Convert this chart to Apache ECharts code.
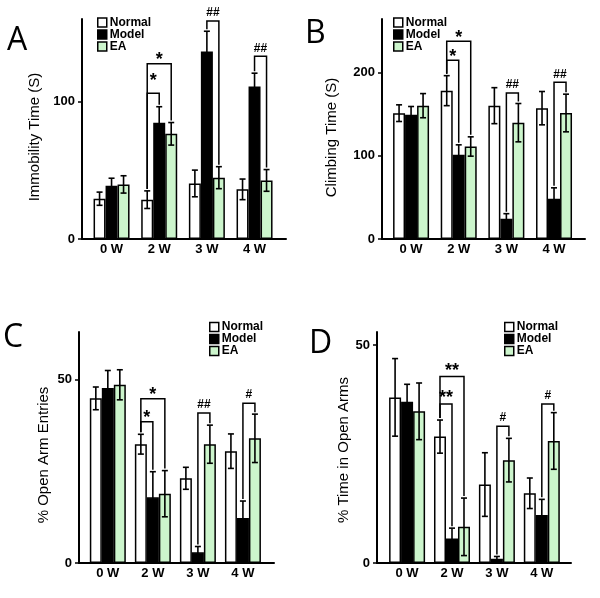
<!DOCTYPE html>
<html><head><meta charset="utf-8">
<script src="https://cdn.jsdelivr.net/npm/echarts@6/dist/echarts.min.js"></script>
<style>html,body{margin:0;padding:0;background:#fff}#c{width:600px;height:598px}</style>
</head><body><div id="c"></div>
<script>
// ---- data ----
const categories = ['0 W', '2 W', '3 W', '4 W'];
const groupNames = ['Normal', 'Model', 'EA'];

// Panel A: Immobility Time (S)
const aNormal = [29.3, 28.6, 40.4, 36.1];
const aNormalErr = [4.8, 6.4, 9.7, 7.5];
const aModel = [38.7, 84.5, 136.3, 110.9];
const aModelErr = [5.5, 11.7, 14.8, 9.7];
const aEA = [39.7, 76.5, 44.6, 42.6];
const aEAErr = [6.3, 8.2, 8.0, 7.9];
const aTicks = [0, 100];
// significance brackets: [category, groupFrom, groupTo, level]
const aBrackets = [[1, 0, 1, 106], [1, 0, 2, 127.4], [2, 1, 2, 158.6], [3, 1, 2, 132.9]];
const aMarks = ['*', '*', '##', '##'];

// Panel B: Climbing Time (S)
const bNormal = [151, 178, 160, 157];
const bNormalErr = [10, 18, 21.6, 20];
const bModel = [149, 101, 24.4, 48.4];
const bModelErr = [10, 12, 6, 13];
const bEA = [160, 111, 139.6, 151.2];
const bEAErr = [14.5, 11.6, 23, 22.6];
const bTicks = [0, 100, 200];
const bBrackets = [[1, 0, 1, 214.4], [1, 0, 2, 237.2], [2, 1, 2, 175.2], [3, 1, 2, 188]];
const bMarks = ['*', '*', '##', '##'];

// Panel C: % Open Arm Entries
const cNormal = [44.9, 32.4, 23.1, 30.5];
const cNormalErr = [3.1, 2.7, 3.0, 4.7];
const cModel = [47.7, 17.9, 2.9, 12.3];
const cModelErr = [4.8, 7.0, 1.6, 4.6];
const cEA = [48.6, 18.9, 32.4, 34.0];
const cEAErr = [4.1, 6.3, 5.2, 6.6];
const cTicks = [0, 50];
const cBrackets = [[1, 0, 1, 38.5], [1, 0, 2, 44.8], [2, 1, 2, 40.9], [3, 1, 2, 43.6]];
const cMarks = ['*', '*', '##', '#'];

// Panel D: % Time in Open Arms
const dNormal = [38, 29, 18, 16];
const dNormalErr = [8.9, 3.8, 7.3, 3.5];
const dModel = [37, 5.6, 1.0, 11];
const dModelErr = [4.0, 2.4, 0.5, 3.6];
const dEA = [34.8, 8.3, 23.6, 28];
const dEAErr = [6.5, 6.6, 5.0, 6.5];
const dTicks = [0, 50];
const dBrackets = [[1, 0, 1, 36.5], [1, 0, 2, 42.8], [2, 1, 2, 31.4], [3, 1, 2, 36.5]];
const dMarks = ['**', '**', '#', '#'];

// ---- layout / style ----
const colors = ['#ffffff', '#000000', '#ccf5cc'];
const BW = 12;
const LBL = 'Liberation Sans, Arial, sans-serif';

const panels = [
  { letter: 'A', lx: 7, ly: 25, name: 'Immobility Time (S)', nameGap: 40, nameShift: 16,
    grid: { left: 82, top: 19, width: 204, height: 220 }, xmin: -0.62, xmax: 3.66, ymax: 160,
    ticks: aTicks, means: [aNormal, aModel, aEA], errs: [aNormalErr, aModelErr, aEAErr],
    brackets: aBrackets, marks: aMarks, markLift: [9, 0, 0, 0], legend: { left: 97, top: 16.5 } },
  { letter: 'B', lx: 305, ly: 18, name: 'Climbing Time (S)', nameGap: 43, nameShift: 17,
    grid: { left: 382, top: 19, width: 203, height: 220 }, xmin: -0.61, xmax: 3.65, ymax: 264,
    ticks: bTicks, means: [bNormal, bModel, bEA], errs: [bNormalErr, bModelErr, bEAErr],
    brackets: bBrackets, marks: bMarks, markLift: [0, 0, 0, 0], legend: { left: 393, top: 16.5 } },
  { letter: 'C', lx: 3, ly: 322, name: '% Open Arm Entries', nameGap: 28, nameShift: 15,
    grid: { left: 79, top: 332, width: 195, height: 231 }, xmin: -0.64, xmax: 3.69, ymax: 63,
    ticks: cTicks, means: [cNormal, cModel, cEA], errs: [cNormalErr, cModelErr, cEAErr],
    brackets: cBrackets, marks: cMarks, markLift: [0, 0, 0, 0], legend: { left: 209, top: 321 } },
  { letter: 'D', lx: 309, ly: 328, name: '% Time in Open Arms', nameGap: 22, nameShift: 5,
    grid: { left: 377, top: 332, width: 194, height: 231 }, xmin: -0.67, xmax: 3.65, ymax: 53,
    ticks: dTicks, means: [dNormal, dModel, dEA], errs: [dNormalErr, dModelErr, dEAErr],
    brackets: dBrackets, marks: dMarks, markLift: [2, 2, 0, 0], legend: { left: 504, top: 321 } }
];

const option = {
  animation: false,
  backgroundColor: '#fff',
  grid: [], xAxis: [], yAxis: [], series: [], legend: [], graphic: []
};

panels.forEach((p, g) => {
  option.grid.push(Object.assign({}, p.grid));
  option.xAxis.push({
    gridIndex: g, type: 'value', min: p.xmin, max: p.xmax,
    axisLine: { show: true, onZero: false, lineStyle: { color: '#000', width: 2 } },
    axisTick: { show: false }, splitLine: { show: false },
    axisLabel: { customValues: [0, 1, 2, 3], formatter: v => categories[Math.round(v)] || '',
      color: '#000', fontWeight: 'bold', fontSize: 13, fontFamily: LBL, margin: 4 }
  });
  option.yAxis.push({
    gridIndex: g, type: 'value', min: 0, max: p.ymax,
    axisLine: { show: true, onZero: false, lineStyle: { color: '#000', width: 2 } },
    axisTick: { show: true, length: 4, customValues: p.ticks, lineStyle: { color: '#000', width: 1.5 } },
    axisLabel: { customValues: p.ticks, color: '#000', fontWeight: 'bold', fontSize: 13, fontFamily: LBL, margin: 7 },
    splitLine: { show: false },
    name: p.name, nameLocation: 'middle', nameGap: p.nameGap,
    nameTextStyle: { color: '#000', fontSize: 15, fontFamily: LBL, padding: [0, p.nameShift, 0, 0] }
  });
  groupNames.forEach((nm, k) => {
    option.series.push({
      type: 'bar', name: nm, xAxisIndex: g, yAxisIndex: g,
      barWidth: BW, barGap: '0%',
      itemStyle: { color: colors[k], borderColor: '#000', borderWidth: 1.5 },
      data: p.means[k].map((v, i) => [i, v])
    });
  });
  // error bars
  const errData = [];
  groupNames.forEach((nm, k) => p.means[k].forEach((v, i) => errData.push([i, v, p.errs[k][i], k])));
  option.series.push({
    type: 'custom', xAxisIndex: g, yAxisIndex: g, z: 5, silent: true,
    data: errData,
    renderItem: (params, api) => {
      const i = api.value(0), v = api.value(1), e = api.value(2), k = api.value(3);
      const top = api.coord([i, v + e]);
      const bot = api.coord([i, Math.max(0, v - e)]);
      const x = top[0] + (k - 1) * BW;
      const st = { stroke: '#000', lineWidth: 1.6 };
      return { type: 'group', children: [
        { type: 'line', shape: { x1: x, y1: top[1], x2: x, y2: bot[1] }, style: st },
        { type: 'line', shape: { x1: x - 3, y1: top[1], x2: x + 3, y2: top[1] }, style: st },
        { type: 'line', shape: { x1: x - 3, y1: bot[1], x2: x + 3, y2: bot[1] }, style: st }
      ] };
    }
  });
  // significance brackets
  const topOf = (k, i) => p.means[k][i] + p.errs[k][i];
  option.series.push({
    type: 'custom', xAxisIndex: g, yAxisIndex: g, z: 6, silent: true,
    data: p.brackets,
    renderItem: (params, api) => {
      const c = api.value(0), a = api.value(1), b = api.value(2), lev = api.value(3);
      const mark = p.marks[params.dataIndex];
      const cx = api.coord([c, 0])[0];
      const yl = api.coord([c, lev])[1];
      const x1 = cx + (a - 1) * BW, x2 = cx + (b - 1) * BW;
      const y1 = api.coord([c, topOf(a, c)])[1] - 2;
      const y2 = api.coord([c, topOf(b, c)])[1] - 2;
      const isStar = mark.indexOf('*') >= 0;
      const off = (isStar ? 3.5 : 8) + p.markLift[params.dataIndex];
      return { type: 'group', children: [
        { type: 'polyline', shape: { points: [[x1, y1], [x1, yl], [x2, yl], [x2, y2]] },
          style: { stroke: '#000', lineWidth: 1.5, fill: null } },
        { type: 'text', style: { text: mark, x: (x1 + x2) / 2, y: yl - off, align: 'center', verticalAlign: 'middle',
          fill: '#000', font: (isStar ? 'bold 18px ' : 'bold 12px ') + LBL } }
      ] };
    }
  });
  option.legend.push({
    data: groupNames, orient: 'vertical', left: p.legend.left, top: p.legend.top,
    icon: 'rect', itemWidth: 9, itemHeight: 9, itemGap: 0, selectedMode: false, padding: 0,
    itemStyle: { borderColor: '#000', borderWidth: 1.5 },
    textStyle: { color: '#000', fontWeight: 'bold', fontSize: 12, fontFamily: LBL, padding: [0, 0, 0, -2] }
  });
  option.graphic.push({
    type: 'text', x: p.lx, y: p.ly,
    style: { text: p.letter, font: '32px "Open Sans", sans-serif', fill: '#000', verticalAlign: 'top' }
  });
});

const chart = echarts.init(document.getElementById('c'), null, { renderer: 'canvas' });
chart.setOption(option);
</script>
</body></html>
